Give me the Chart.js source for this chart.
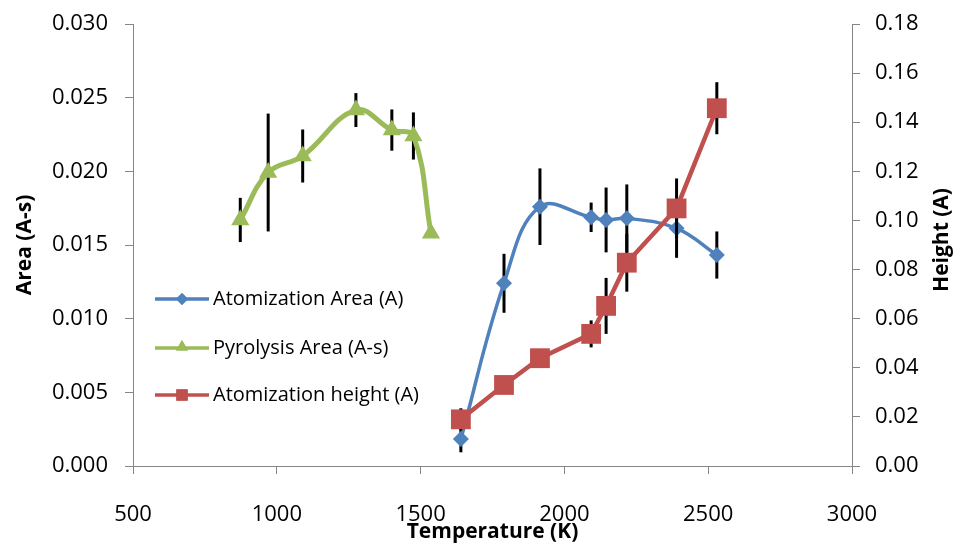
<!DOCTYPE html>
<html><head><meta charset="utf-8">
<script src="https://cdn.jsdelivr.net/npm/chart.js@4/dist/chart.umd.min.js"></script>
<style>html,body{margin:0;padding:0;background:#fff}#wrap{width:958px;height:545px;position:relative}</style>
</head><body><div id="wrap"><canvas id="c" width="958" height="545"></canvas></div>
<script>
// ---- data ----
const atomTemps = [1640, 1790, 1915, 2093, 2145, 2217, 2390, 2530];
const atomArea = [0.00183, 0.0124, 0.0176, 0.01688, 0.0167, 0.01681, 0.01613, 0.01432];
const atomAreaErr = [0.0009, 0.0020, 0.0026, 0.0010, 0.0022, 0.0023, 0.0020, 0.0016];
const atomHeight = [0.0190, 0.0330, 0.0439, 0.0538, 0.0652, 0.0828, 0.1049, 0.1457];
const atomHeightErr = [0.0045, 0, 0, 0.0055, 0.0114, 0.0118, 0.0122, 0.0106];
const pyroTemps = [873, 970, 1090, 1275, 1400, 1475, 1536];
const pyroArea = [0.0167, 0.01992, 0.02104, 0.02416, 0.0228, 0.0224, 0.0158];
const pyroAreaErr = [0.0015, 0.0040, 0.0018, 0.00115, 0.0014, 0.0016, 0];
const seriesNames = ['Atomization Area (A)', 'Pyrolysis Area (A-s)', 'Atomization height (A)'];
const xTitle = 'Temperature (K)';
const yLeftTitle = 'Area (A-s)';
const yRightTitle = 'Height (A)';

const BLUE = '#4F81BD', GREEN = '#9BBB59', RED = '#C0504D', AXIS = '#868686';
const FONT = "'Open Sans', 'DejaVu Sans', sans-serif";

const pts = (xs, ys) => xs.map((x, i) => ({x: x, y: ys[i]}));

const errorBars = {
  id: 'errorBars',
  beforeDatasetDraw(chart, args) {
    const ds = chart.data.datasets[args.index];
    if (!ds.errors) return;
    const ctx = chart.ctx, xs = chart.scales.x, ys = chart.scales[ds.yAxisID];
    ctx.save();
    ctx.strokeStyle = '#000'; ctx.lineWidth = 3;
    ds.data.forEach((p, i) => {
      const e = ds.errors[i];
      if (!e) return;
      const x = xs.getPixelForValue(p.x);
      ctx.beginPath();
      ctx.moveTo(x, ys.getPixelForValue(p.y - e));
      ctx.lineTo(x, ys.getPixelForValue(p.y + e));
      ctx.stroke();
    });
    ctx.restore();
  }
};

const extras = {
  id: 'extras',
  afterDraw(chart) {
    const ctx = chart.ctx;
    ctx.save();
    // right axis title (reads bottom to top)
    const ry = chart.scales.yR;
    ctx.translate(942, (ry.top + ry.bottom) / 2 - 5);
    ctx.rotate(-Math.PI / 2);
    ctx.font = "bold 21px " + FONT;
    ctx.fillStyle = '#000';
    ctx.textAlign = 'center'; ctx.textBaseline = 'middle';
    ctx.fillText(yRightTitle, 0, 0);
    ctx.restore();
    // legend
    const items = [
      {name: seriesNames[0], color: BLUE, style: 'rectRot', r: 6},
      {name: seriesNames[1], color: GREEN, style: 'triangle', r: 7},
      {name: seriesNames[2], color: RED, style: 'rect', r: 8}
    ];
    const ys = [299, 348, 395];
    items.forEach((it, i) => {
      const y = ys[i];
      ctx.save();
      ctx.strokeStyle = it.color; ctx.lineWidth = 3.5;
      ctx.beginPath(); ctx.moveTo(155, y); ctx.lineTo(209, y); ctx.stroke();
      ctx.fillStyle = it.color;
      Chart.helpers.drawPoint(ctx, {pointStyle: it.style, radius: it.r, borderWidth: 0}, 182, it.style === 'triangle' ? y - 1 : y);
      ctx.fill();
      ctx.font = "20px " + FONT;
      ctx.fillStyle = '#000';
      ctx.textAlign = 'left'; ctx.textBaseline = 'middle';
      ctx.fillText(it.name, 213, y);
      ctx.restore();
    });
  }
};

const fitY = w => s => { s.width = w; s.paddingTop = 0; s.paddingBottom = 0; };

new Chart(document.getElementById('c'), {
  type: 'line',
  data: {
    datasets: [
      {label: seriesNames[0], data: pts(atomTemps, atomArea), errors: atomAreaErr, yAxisID: 'y',
       borderColor: BLUE, backgroundColor: BLUE, borderWidth: 3.5, tension: 0.4,
       pointStyle: 'rectRot', pointRadius: 8, pointBorderWidth: 0, order: 2},
      {label: seriesNames[1], data: pts(pyroTemps, pyroArea), errors: pyroAreaErr, yAxisID: 'y',
       borderColor: GREEN, backgroundColor: GREEN, borderWidth: 5, tension: 0.4,
       pointStyle: 'triangle', pointRadius: 10.5, pointBorderWidth: 0, order: 1},
      {label: seriesNames[2], data: pts(atomTemps, atomHeight), errors: atomHeightErr, yAxisID: 'yR',
       borderColor: RED, backgroundColor: RED, borderWidth: 4.5, tension: 0,
       pointStyle: 'rect', pointRadius: 14, pointBorderWidth: 0, order: 0}
    ]
  },
  options: {
    responsive: false, animation: false,
    layout: {padding: {top: 24, left: 0, right: 0, bottom: 0}},
    plugins: {legend: {display: false}, tooltip: {enabled: false}},
    scales: {
      x: {
        type: 'linear', min: 500, max: 3000,
        ticks: {stepSize: 500, color: '#000', font: {family: FONT, size: 22}, padding: 28, maxRotation: 0,
                callback: v => String(v)},
        grid: {drawOnChartArea: false, drawTicks: true, tickLength: 8, color: AXIS},
        border: {color: AXIS, width: 1},
        title: {display: true, text: xTitle, color: '#000', font: {family: FONT, size: 21, weight: 'bold'}, padding: {top: 0, bottom: 0}},
        afterFit(s) { s.height = 79; s.paddingLeft = 0; s.paddingRight = 0; }
      },
      y: {
        position: 'left', min: 0, max: 0.03,
        ticks: {stepSize: 0.005, color: '#000', font: {family: FONT, size: 22}, padding: 17,
                callback: v => v.toFixed(3)},
        grid: {drawOnChartArea: false, drawTicks: true, tickLength: 8, color: AXIS},
        border: {color: AXIS, width: 1},
        title: {display: true, text: yLeftTitle, color: '#000', font: {family: FONT, size: 21, weight: 'bold'}, padding: {top: 12, bottom: 0}},
        afterFit: fitY(133)
      },
      yR: {
        position: 'right', min: 0, max: 0.18,
        ticks: {stepSize: 0.02, color: '#000', font: {family: FONT, size: 22}, padding: 15,
                callback: v => v.toFixed(2)},
        grid: {drawOnChartArea: false, drawTicks: true, tickLength: 8, color: AXIS},
        border: {color: AXIS, width: 1},
        afterFit: fitY(106)
      }
    }
  },
  plugins: [errorBars, extras]
});
</script>
</body></html>
